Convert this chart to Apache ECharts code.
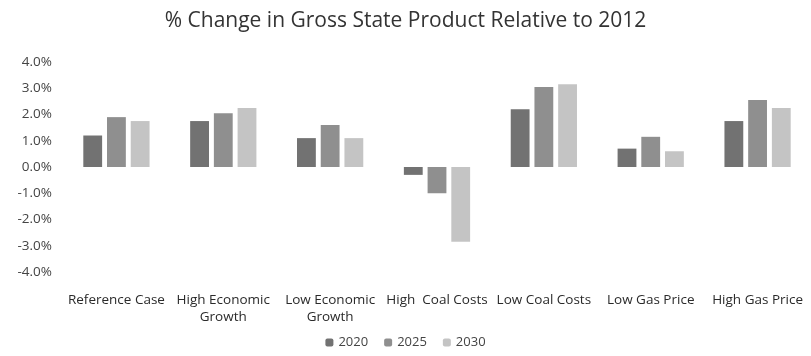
<!DOCTYPE html>
<html>
<head>
<meta charset="utf-8">
<script src="https://cdn.jsdelivr.net/npm/echarts@6/dist/echarts.min.js"></script>
<style>
html,body{margin:0;padding:0;background:#fff;}
#chart{width:811px;height:356px;}
</style>
</head>
<body>
<div id="chart"></div>
<script>
const categories = ["Reference Case", "High Economic\nGrowth", "Low Economic\nGrowth", "High  Coal Costs", "Low Coal Costs", "Low Gas Price", "High Gas Price"];
const seriesNames = ["2020", "2025", "2030"];
const values2020 = [1.2, 1.75, 1.1, -0.3, 2.2, 0.7, 1.75];
const values2025 = [1.9, 2.05, 1.6, -1.0, 3.05, 1.15, 2.55];
const values2030 = [1.75, 2.25, 1.1, -2.85, 3.15, 0.6, 2.25];
const yTicks = [-4, -3, -2, -1, 0, 1, 2, 3, 4];

const colors = ["#727272", "#8f8f8f", "#c4c4c4"];
const font = "'Open Sans', 'Liberation Sans', sans-serif";
const chart = echarts.init(document.getElementById('chart'), null, {renderer: 'canvas'});
const data = [values2020, values2025, values2030];
chart.setOption({
  animation: false,
  backgroundColor: '#fff',
  title: {
    text: '% Change in Gross State Product Relative to 2012',
    left: 'center', top: 6,
    textStyle: {fontFamily: font, fontSize: 21, fontWeight: 'normal', color: '#333'}
  },
  legend: {
    bottom: 2, left: 'center',
    itemWidth: 8, itemHeight: 8, itemGap: 16,
    textStyle: {fontFamily: font, fontSize: 13, color: '#444'},
    data: seriesNames
  },
  grid: {left: 63, right: -6, top: 62, bottom: 84, containLabel: false},
  xAxis: {
    type: 'category', data: categories,
    axisLine: {show: false}, axisTick: {show: false},
    axisLabel: {fontFamily: font, fontSize: 13.5, color: '#2a2a2a', interval: 0, margin: 20, lineHeight: 17}
  },
  yAxis: {
    type: 'value', min: yTicks[0], max: yTicks[yTicks.length - 1], interval: 1,
    splitLine: {show: false}, axisLine: {show: false}, axisTick: {show: false},
    axisLabel: {fontFamily: font, fontSize: 13.5, color: '#444', margin: 11,
      formatter: v => v.toFixed(1) + '%'}
  },
  series: seriesNames.map((n, i) => ({
    name: n, type: 'bar', data: data[i],
    barGap: '26%', barCategoryGap: '38%',
    itemStyle: {color: colors[i]}
  }))
});
</script>
</body>
</html>
